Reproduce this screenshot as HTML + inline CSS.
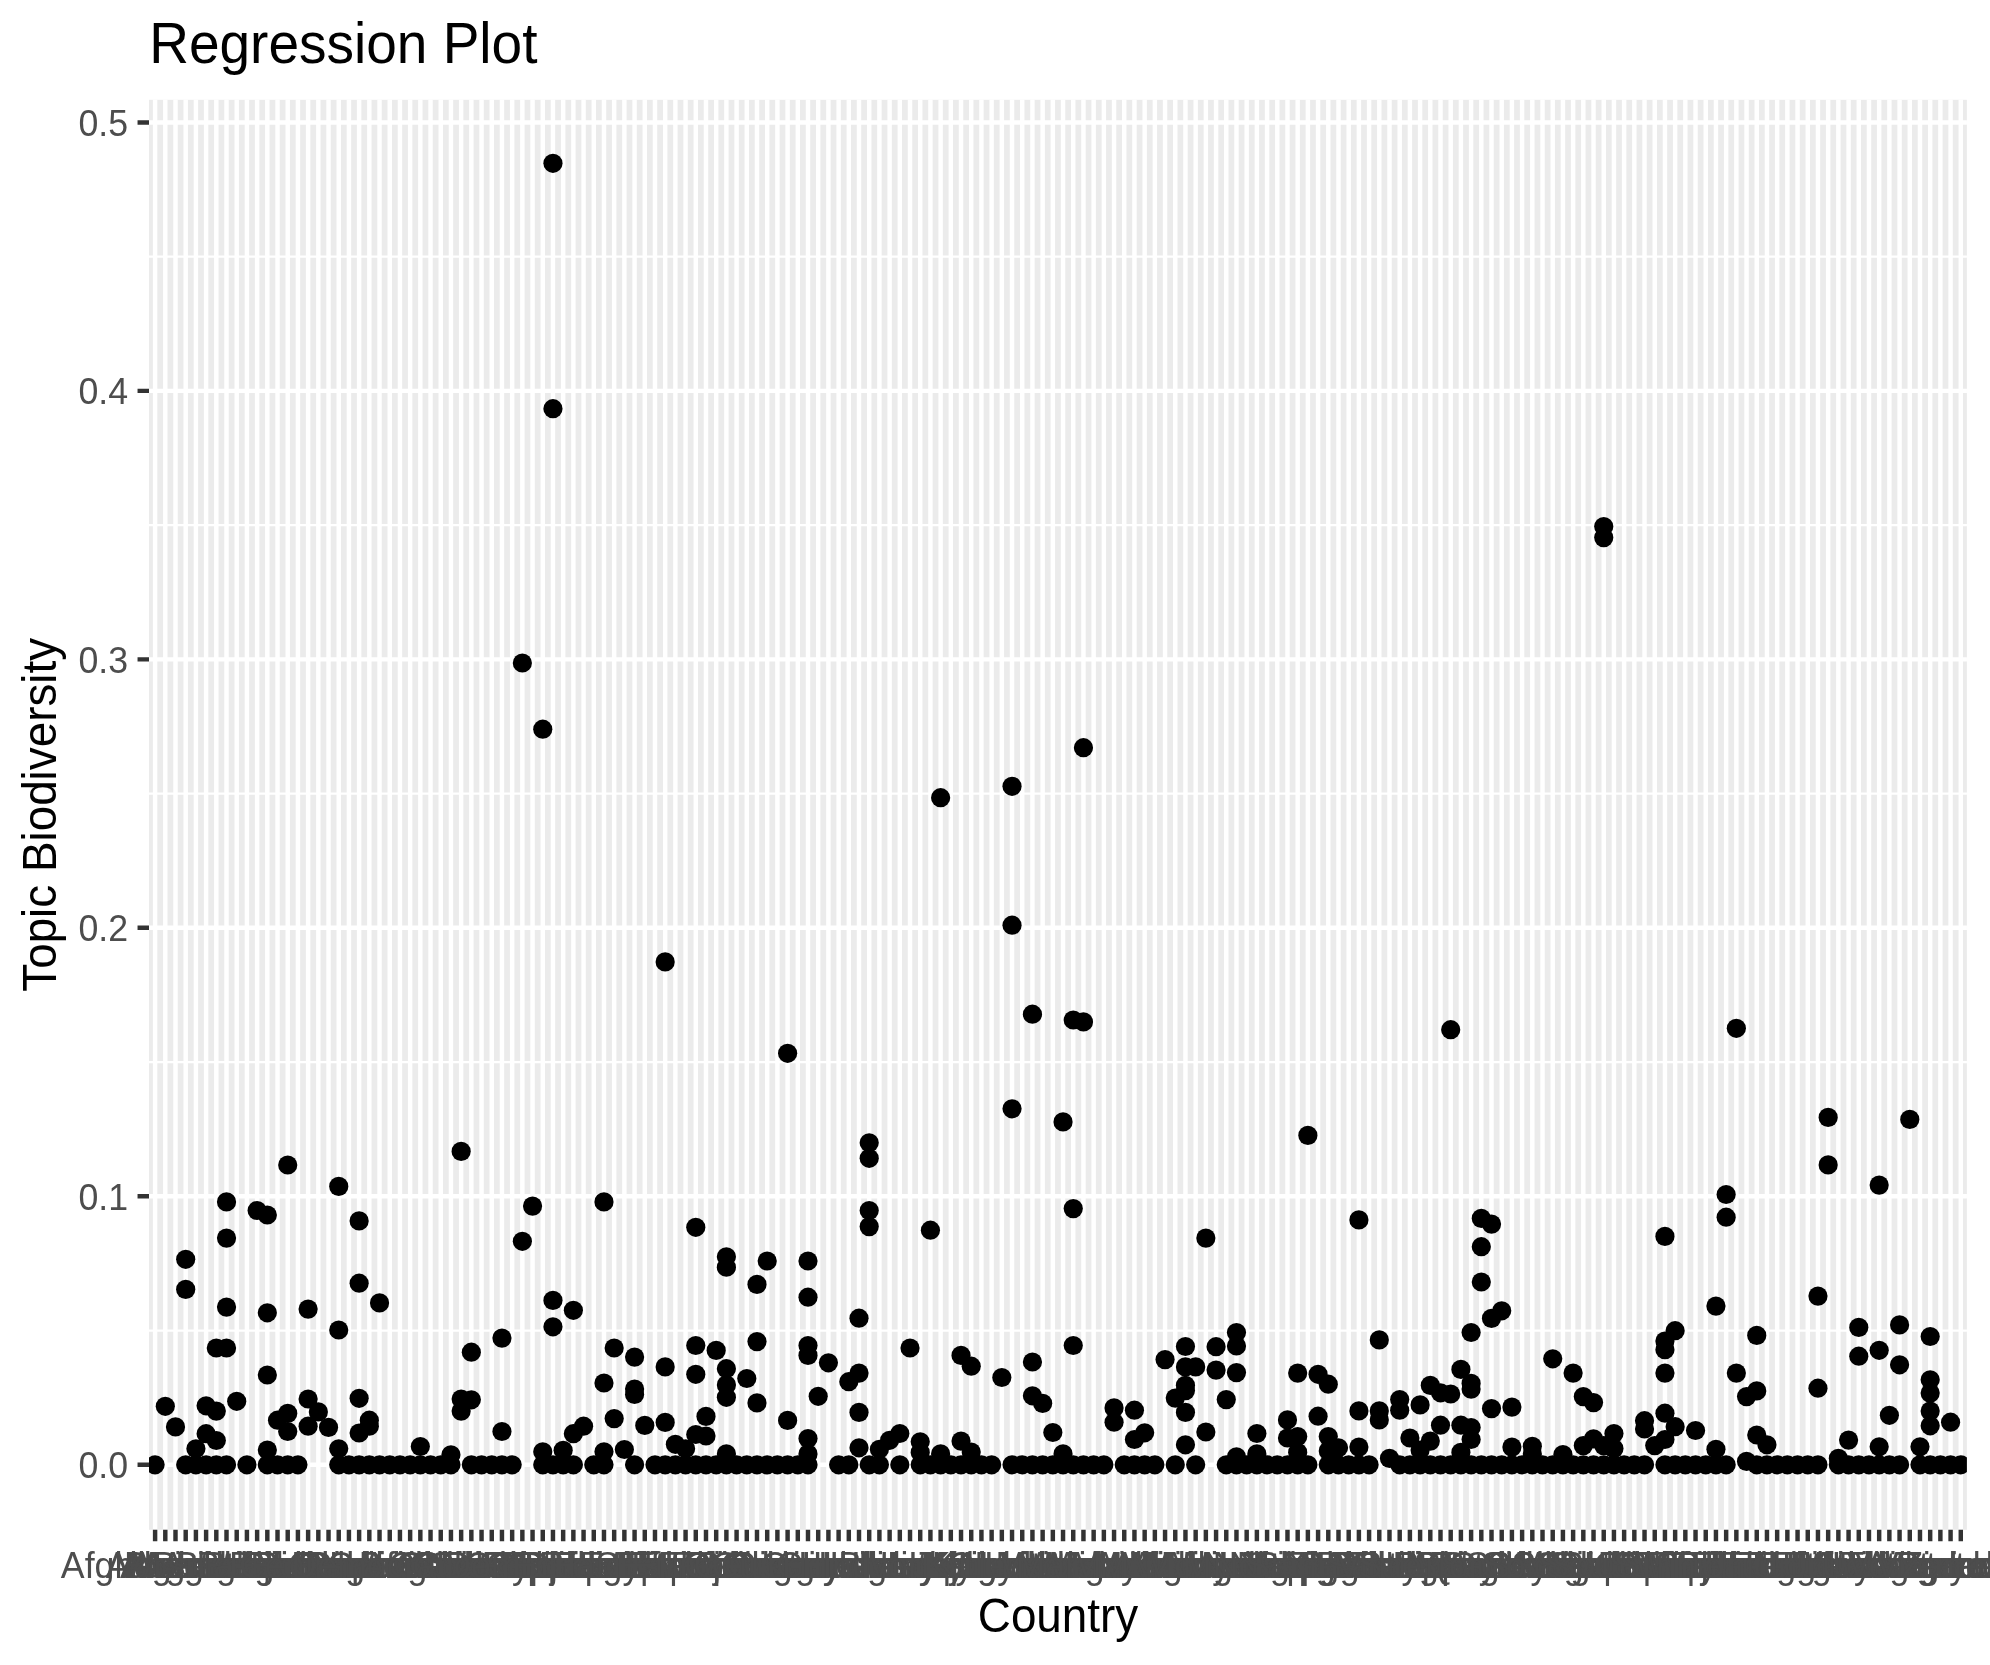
<!DOCTYPE html><html><head><meta charset="utf-8"><style>html,body{margin:0;padding:0;background:#fff;}svg{display:block;will-change:transform;}text{font-family:"Liberation Sans",sans-serif;}</style></head><body>
<svg width="1990" height="1665" viewBox="0 0 1990 1665">
<rect x="0" y="0" width="1990" height="1665" fill="#fff"/>
<defs><clipPath id="pc"><rect x="149.0" y="99.8" width="1817.90" height="1430.00"/></clipPath></defs>
<rect x="149.0" y="99.8" width="1817.90" height="1430.00" fill="#EBEBEB"/>
<path d="M149.0 1330.56H1966.9M149.0 1062.08H1966.9M149.0 793.60H1966.9M149.0 525.12H1966.9M149.0 256.64H1966.9" stroke="#fff" stroke-width="2.225" fill="none"/>
<path d="M149.0 1464.80H1966.9M149.0 1196.32H1966.9M149.0 927.84H1966.9M149.0 659.36H1966.9M149.0 390.88H1966.9M149.0 122.40H1966.9" stroke="#fff" stroke-width="4.450" fill="none"/>
<path d="M155.10 99.8V1529.8M165.30 99.8V1529.8M175.50 99.8V1529.8M185.70 99.8V1529.8M195.91 99.8V1529.8M206.11 99.8V1529.8M216.31 99.8V1529.8M226.51 99.8V1529.8M236.71 99.8V1529.8M246.91 99.8V1529.8M257.12 99.8V1529.8M267.32 99.8V1529.8M277.52 99.8V1529.8M287.72 99.8V1529.8M297.92 99.8V1529.8M308.12 99.8V1529.8M318.33 99.8V1529.8M328.53 99.8V1529.8M338.73 99.8V1529.8M348.93 99.8V1529.8M359.13 99.8V1529.8M369.33 99.8V1529.8M379.54 99.8V1529.8M389.74 99.8V1529.8M399.94 99.8V1529.8M410.14 99.8V1529.8M420.34 99.8V1529.8M430.54 99.8V1529.8M440.74 99.8V1529.8M450.95 99.8V1529.8M461.15 99.8V1529.8M471.35 99.8V1529.8M481.55 99.8V1529.8M491.75 99.8V1529.8M501.95 99.8V1529.8M512.16 99.8V1529.8M522.36 99.8V1529.8M532.56 99.8V1529.8M542.76 99.8V1529.8M552.96 99.8V1529.8M563.16 99.8V1529.8M573.37 99.8V1529.8M583.57 99.8V1529.8M593.77 99.8V1529.8M603.97 99.8V1529.8M614.17 99.8V1529.8M624.37 99.8V1529.8M634.58 99.8V1529.8M644.78 99.8V1529.8M654.98 99.8V1529.8M665.18 99.8V1529.8M675.38 99.8V1529.8M685.58 99.8V1529.8M695.78 99.8V1529.8M705.99 99.8V1529.8M716.19 99.8V1529.8M726.39 99.8V1529.8M736.59 99.8V1529.8M746.79 99.8V1529.8M756.99 99.8V1529.8M767.20 99.8V1529.8M777.40 99.8V1529.8M787.60 99.8V1529.8M797.80 99.8V1529.8M808.00 99.8V1529.8M818.20 99.8V1529.8M828.41 99.8V1529.8M838.61 99.8V1529.8M848.81 99.8V1529.8M859.01 99.8V1529.8M869.21 99.8V1529.8M879.41 99.8V1529.8M889.62 99.8V1529.8M899.82 99.8V1529.8M910.02 99.8V1529.8M920.22 99.8V1529.8M930.42 99.8V1529.8M940.62 99.8V1529.8M950.82 99.8V1529.8M961.03 99.8V1529.8M971.23 99.8V1529.8M981.43 99.8V1529.8M991.63 99.8V1529.8M1001.83 99.8V1529.8M1012.03 99.8V1529.8M1022.24 99.8V1529.8M1032.44 99.8V1529.8M1042.64 99.8V1529.8M1052.84 99.8V1529.8M1063.04 99.8V1529.8M1073.24 99.8V1529.8M1083.45 99.8V1529.8M1093.65 99.8V1529.8M1103.85 99.8V1529.8M1114.05 99.8V1529.8M1124.25 99.8V1529.8M1134.45 99.8V1529.8M1144.66 99.8V1529.8M1154.86 99.8V1529.8M1165.06 99.8V1529.8M1175.26 99.8V1529.8M1185.46 99.8V1529.8M1195.66 99.8V1529.8M1205.86 99.8V1529.8M1216.07 99.8V1529.8M1226.27 99.8V1529.8M1236.47 99.8V1529.8M1246.67 99.8V1529.8M1256.87 99.8V1529.8M1267.07 99.8V1529.8M1277.28 99.8V1529.8M1287.48 99.8V1529.8M1297.68 99.8V1529.8M1307.88 99.8V1529.8M1318.08 99.8V1529.8M1328.28 99.8V1529.8M1338.49 99.8V1529.8M1348.69 99.8V1529.8M1358.89 99.8V1529.8M1369.09 99.8V1529.8M1379.29 99.8V1529.8M1389.49 99.8V1529.8M1399.70 99.8V1529.8M1409.90 99.8V1529.8M1420.10 99.8V1529.8M1430.30 99.8V1529.8M1440.50 99.8V1529.8M1450.70 99.8V1529.8M1460.90 99.8V1529.8M1471.11 99.8V1529.8M1481.31 99.8V1529.8M1491.51 99.8V1529.8M1501.71 99.8V1529.8M1511.91 99.8V1529.8M1522.11 99.8V1529.8M1532.32 99.8V1529.8M1542.52 99.8V1529.8M1552.72 99.8V1529.8M1562.92 99.8V1529.8M1573.12 99.8V1529.8M1583.32 99.8V1529.8M1593.53 99.8V1529.8M1603.73 99.8V1529.8M1613.93 99.8V1529.8M1624.13 99.8V1529.8M1634.33 99.8V1529.8M1644.53 99.8V1529.8M1654.74 99.8V1529.8M1664.94 99.8V1529.8M1675.14 99.8V1529.8M1685.34 99.8V1529.8M1695.54 99.8V1529.8M1705.74 99.8V1529.8M1715.94 99.8V1529.8M1726.15 99.8V1529.8M1736.35 99.8V1529.8M1746.55 99.8V1529.8M1756.75 99.8V1529.8M1766.95 99.8V1529.8M1777.15 99.8V1529.8M1787.36 99.8V1529.8M1797.56 99.8V1529.8M1807.76 99.8V1529.8M1817.96 99.8V1529.8M1828.16 99.8V1529.8M1838.36 99.8V1529.8M1848.57 99.8V1529.8M1858.77 99.8V1529.8M1868.97 99.8V1529.8M1879.17 99.8V1529.8M1889.37 99.8V1529.8M1899.57 99.8V1529.8M1909.78 99.8V1529.8M1919.98 99.8V1529.8M1930.18 99.8V1529.8M1940.38 99.8V1529.8M1950.58 99.8V1529.8M1960.78 99.8V1529.8" stroke="#fff" stroke-width="4.450" fill="none"/>
<g clip-path="url(#pc)" fill="#000">
<circle cx="155.10" cy="1464.80" r="9.6"/>
<circle cx="185.70" cy="1464.80" r="9.6"/>
<circle cx="195.91" cy="1464.80" r="9.6"/>
<circle cx="206.11" cy="1464.80" r="9.6"/>
<circle cx="216.31" cy="1464.80" r="9.6"/>
<circle cx="226.51" cy="1464.80" r="9.6"/>
<circle cx="246.91" cy="1464.80" r="9.6"/>
<circle cx="267.32" cy="1464.80" r="9.6"/>
<circle cx="277.52" cy="1464.80" r="9.6"/>
<circle cx="287.72" cy="1464.80" r="9.6"/>
<circle cx="297.92" cy="1464.80" r="9.6"/>
<circle cx="338.73" cy="1464.80" r="9.6"/>
<circle cx="348.93" cy="1464.80" r="9.6"/>
<circle cx="359.13" cy="1464.80" r="9.6"/>
<circle cx="369.33" cy="1464.80" r="9.6"/>
<circle cx="379.54" cy="1464.80" r="9.6"/>
<circle cx="389.74" cy="1464.80" r="9.6"/>
<circle cx="399.94" cy="1464.80" r="9.6"/>
<circle cx="410.14" cy="1464.80" r="9.6"/>
<circle cx="420.34" cy="1464.80" r="9.6"/>
<circle cx="430.54" cy="1464.80" r="9.6"/>
<circle cx="440.74" cy="1464.80" r="9.6"/>
<circle cx="450.95" cy="1464.80" r="9.6"/>
<circle cx="471.35" cy="1464.80" r="9.6"/>
<circle cx="481.55" cy="1464.80" r="9.6"/>
<circle cx="491.75" cy="1464.80" r="9.6"/>
<circle cx="501.95" cy="1464.80" r="9.6"/>
<circle cx="512.16" cy="1464.80" r="9.6"/>
<circle cx="542.76" cy="1464.80" r="9.6"/>
<circle cx="552.96" cy="1464.80" r="9.6"/>
<circle cx="563.16" cy="1464.80" r="9.6"/>
<circle cx="573.37" cy="1464.80" r="9.6"/>
<circle cx="593.77" cy="1464.80" r="9.6"/>
<circle cx="603.97" cy="1464.80" r="9.6"/>
<circle cx="634.58" cy="1464.80" r="9.6"/>
<circle cx="654.98" cy="1464.80" r="9.6"/>
<circle cx="665.18" cy="1464.80" r="9.6"/>
<circle cx="675.38" cy="1464.80" r="9.6"/>
<circle cx="685.58" cy="1464.80" r="9.6"/>
<circle cx="695.78" cy="1464.80" r="9.6"/>
<circle cx="705.99" cy="1464.80" r="9.6"/>
<circle cx="716.19" cy="1464.80" r="9.6"/>
<circle cx="726.39" cy="1464.80" r="9.6"/>
<circle cx="736.59" cy="1464.80" r="9.6"/>
<circle cx="746.79" cy="1464.80" r="9.6"/>
<circle cx="756.99" cy="1464.80" r="9.6"/>
<circle cx="767.20" cy="1464.80" r="9.6"/>
<circle cx="777.40" cy="1464.80" r="9.6"/>
<circle cx="787.60" cy="1464.80" r="9.6"/>
<circle cx="797.80" cy="1464.80" r="9.6"/>
<circle cx="808.00" cy="1464.80" r="9.6"/>
<circle cx="838.61" cy="1464.80" r="9.6"/>
<circle cx="848.81" cy="1464.80" r="9.6"/>
<circle cx="869.21" cy="1464.80" r="9.6"/>
<circle cx="879.41" cy="1464.80" r="9.6"/>
<circle cx="899.82" cy="1464.80" r="9.6"/>
<circle cx="920.22" cy="1464.80" r="9.6"/>
<circle cx="930.42" cy="1464.80" r="9.6"/>
<circle cx="940.62" cy="1464.80" r="9.6"/>
<circle cx="950.82" cy="1464.80" r="9.6"/>
<circle cx="961.03" cy="1464.80" r="9.6"/>
<circle cx="971.23" cy="1464.80" r="9.6"/>
<circle cx="981.43" cy="1464.80" r="9.6"/>
<circle cx="991.63" cy="1464.80" r="9.6"/>
<circle cx="1012.03" cy="1464.80" r="9.6"/>
<circle cx="1022.24" cy="1464.80" r="9.6"/>
<circle cx="1032.44" cy="1464.80" r="9.6"/>
<circle cx="1042.64" cy="1464.80" r="9.6"/>
<circle cx="1052.84" cy="1464.80" r="9.6"/>
<circle cx="1063.04" cy="1464.80" r="9.6"/>
<circle cx="1073.24" cy="1464.80" r="9.6"/>
<circle cx="1083.45" cy="1464.80" r="9.6"/>
<circle cx="1093.65" cy="1464.80" r="9.6"/>
<circle cx="1103.85" cy="1464.80" r="9.6"/>
<circle cx="1124.25" cy="1464.80" r="9.6"/>
<circle cx="1134.45" cy="1464.80" r="9.6"/>
<circle cx="1144.66" cy="1464.80" r="9.6"/>
<circle cx="1154.86" cy="1464.80" r="9.6"/>
<circle cx="1175.26" cy="1464.80" r="9.6"/>
<circle cx="1195.66" cy="1464.80" r="9.6"/>
<circle cx="1226.27" cy="1464.80" r="9.6"/>
<circle cx="1236.47" cy="1464.80" r="9.6"/>
<circle cx="1246.67" cy="1464.80" r="9.6"/>
<circle cx="1256.87" cy="1464.80" r="9.6"/>
<circle cx="1267.07" cy="1464.80" r="9.6"/>
<circle cx="1277.28" cy="1464.80" r="9.6"/>
<circle cx="1287.48" cy="1464.80" r="9.6"/>
<circle cx="1297.68" cy="1464.80" r="9.6"/>
<circle cx="1307.88" cy="1464.80" r="9.6"/>
<circle cx="1328.28" cy="1464.80" r="9.6"/>
<circle cx="1338.49" cy="1464.80" r="9.6"/>
<circle cx="1348.69" cy="1464.80" r="9.6"/>
<circle cx="1358.89" cy="1464.80" r="9.6"/>
<circle cx="1369.09" cy="1464.80" r="9.6"/>
<circle cx="1399.70" cy="1464.80" r="9.6"/>
<circle cx="1409.90" cy="1464.80" r="9.6"/>
<circle cx="1420.10" cy="1464.80" r="9.6"/>
<circle cx="1430.30" cy="1464.80" r="9.6"/>
<circle cx="1440.50" cy="1464.80" r="9.6"/>
<circle cx="1450.70" cy="1464.80" r="9.6"/>
<circle cx="1460.90" cy="1464.80" r="9.6"/>
<circle cx="1471.11" cy="1464.80" r="9.6"/>
<circle cx="1481.31" cy="1464.80" r="9.6"/>
<circle cx="1491.51" cy="1464.80" r="9.6"/>
<circle cx="1501.71" cy="1464.80" r="9.6"/>
<circle cx="1511.91" cy="1464.80" r="9.6"/>
<circle cx="1522.11" cy="1464.80" r="9.6"/>
<circle cx="1532.32" cy="1464.80" r="9.6"/>
<circle cx="1542.52" cy="1464.80" r="9.6"/>
<circle cx="1552.72" cy="1464.80" r="9.6"/>
<circle cx="1562.92" cy="1464.80" r="9.6"/>
<circle cx="1573.12" cy="1464.80" r="9.6"/>
<circle cx="1583.32" cy="1464.80" r="9.6"/>
<circle cx="1593.53" cy="1464.80" r="9.6"/>
<circle cx="1603.73" cy="1464.80" r="9.6"/>
<circle cx="1613.93" cy="1464.80" r="9.6"/>
<circle cx="1624.13" cy="1464.80" r="9.6"/>
<circle cx="1634.33" cy="1464.80" r="9.6"/>
<circle cx="1644.53" cy="1464.80" r="9.6"/>
<circle cx="1664.94" cy="1464.80" r="9.6"/>
<circle cx="1675.14" cy="1464.80" r="9.6"/>
<circle cx="1685.34" cy="1464.80" r="9.6"/>
<circle cx="1695.54" cy="1464.80" r="9.6"/>
<circle cx="1705.74" cy="1464.80" r="9.6"/>
<circle cx="1715.94" cy="1464.80" r="9.6"/>
<circle cx="1726.15" cy="1464.80" r="9.6"/>
<circle cx="1756.75" cy="1464.80" r="9.6"/>
<circle cx="1766.95" cy="1464.80" r="9.6"/>
<circle cx="1777.15" cy="1464.80" r="9.6"/>
<circle cx="1787.36" cy="1464.80" r="9.6"/>
<circle cx="1797.56" cy="1464.80" r="9.6"/>
<circle cx="1807.76" cy="1464.80" r="9.6"/>
<circle cx="1817.96" cy="1464.80" r="9.6"/>
<circle cx="1838.36" cy="1464.80" r="9.6"/>
<circle cx="1848.57" cy="1464.80" r="9.6"/>
<circle cx="1858.77" cy="1464.80" r="9.6"/>
<circle cx="1868.97" cy="1464.80" r="9.6"/>
<circle cx="1879.17" cy="1464.80" r="9.6"/>
<circle cx="1889.37" cy="1464.80" r="9.6"/>
<circle cx="1899.57" cy="1464.80" r="9.6"/>
<circle cx="1919.98" cy="1464.80" r="9.6"/>
<circle cx="1930.18" cy="1464.80" r="9.6"/>
<circle cx="1940.38" cy="1464.80" r="9.6"/>
<circle cx="1950.58" cy="1464.80" r="9.6"/>
<circle cx="1960.78" cy="1464.80" r="9.6"/>
<circle cx="165.30" cy="1406.30" r="9.6"/>
<circle cx="175.50" cy="1426.90" r="9.6"/>
<circle cx="185.70" cy="1259.30" r="9.6"/>
<circle cx="185.70" cy="1289.40" r="9.6"/>
<circle cx="195.91" cy="1448.80" r="9.6"/>
<circle cx="206.11" cy="1405.80" r="9.6"/>
<circle cx="206.11" cy="1433.70" r="9.6"/>
<circle cx="216.31" cy="1348.00" r="9.6"/>
<circle cx="216.31" cy="1411.10" r="9.6"/>
<circle cx="216.31" cy="1440.50" r="9.6"/>
<circle cx="226.51" cy="1201.90" r="9.6"/>
<circle cx="226.51" cy="1238.10" r="9.6"/>
<circle cx="226.51" cy="1307.10" r="9.6"/>
<circle cx="226.51" cy="1348.00" r="9.6"/>
<circle cx="236.71" cy="1401.30" r="9.6"/>
<circle cx="257.12" cy="1210.50" r="9.6"/>
<circle cx="267.32" cy="1215.00" r="9.6"/>
<circle cx="267.32" cy="1312.80" r="9.6"/>
<circle cx="267.32" cy="1375.00" r="9.6"/>
<circle cx="267.32" cy="1450.00" r="9.6"/>
<circle cx="277.52" cy="1420.20" r="9.6"/>
<circle cx="287.72" cy="1165.00" r="9.6"/>
<circle cx="287.72" cy="1413.40" r="9.6"/>
<circle cx="287.72" cy="1431.50" r="9.6"/>
<circle cx="308.12" cy="1309.10" r="9.6"/>
<circle cx="308.12" cy="1399.00" r="9.6"/>
<circle cx="308.12" cy="1426.20" r="9.6"/>
<circle cx="318.33" cy="1411.90" r="9.6"/>
<circle cx="328.53" cy="1427.40" r="9.6"/>
<circle cx="338.73" cy="1186.40" r="9.6"/>
<circle cx="338.73" cy="1330.00" r="9.6"/>
<circle cx="338.73" cy="1448.80" r="9.6"/>
<circle cx="359.13" cy="1220.90" r="9.6"/>
<circle cx="359.13" cy="1283.20" r="9.6"/>
<circle cx="359.13" cy="1398.30" r="9.6"/>
<circle cx="359.13" cy="1433.00" r="9.6"/>
<circle cx="369.33" cy="1420.20" r="9.6"/>
<circle cx="369.33" cy="1426.20" r="9.6"/>
<circle cx="379.54" cy="1302.90" r="9.6"/>
<circle cx="420.34" cy="1446.50" r="9.6"/>
<circle cx="450.95" cy="1454.80" r="9.6"/>
<circle cx="461.15" cy="1151.40" r="9.6"/>
<circle cx="461.15" cy="1399.00" r="9.6"/>
<circle cx="461.15" cy="1411.10" r="9.6"/>
<circle cx="471.35" cy="1352.20" r="9.6"/>
<circle cx="471.35" cy="1399.80" r="9.6"/>
<circle cx="501.95" cy="1338.10" r="9.6"/>
<circle cx="501.95" cy="1431.50" r="9.6"/>
<circle cx="522.36" cy="663.00" r="9.6"/>
<circle cx="522.36" cy="1241.30" r="9.6"/>
<circle cx="532.56" cy="1206.10" r="9.6"/>
<circle cx="542.76" cy="729.20" r="9.6"/>
<circle cx="542.76" cy="1451.80" r="9.6"/>
<circle cx="552.96" cy="163.30" r="9.6"/>
<circle cx="552.96" cy="408.70" r="9.6"/>
<circle cx="552.96" cy="1300.40" r="9.6"/>
<circle cx="552.96" cy="1326.80" r="9.6"/>
<circle cx="563.16" cy="1450.30" r="9.6"/>
<circle cx="573.37" cy="1310.30" r="9.6"/>
<circle cx="573.37" cy="1433.70" r="9.6"/>
<circle cx="583.57" cy="1426.20" r="9.6"/>
<circle cx="603.97" cy="1201.90" r="9.6"/>
<circle cx="603.97" cy="1383.00" r="9.6"/>
<circle cx="603.97" cy="1451.80" r="9.6"/>
<circle cx="614.17" cy="1348.00" r="9.6"/>
<circle cx="614.17" cy="1418.60" r="9.6"/>
<circle cx="624.37" cy="1449.50" r="9.6"/>
<circle cx="634.58" cy="1357.10" r="9.6"/>
<circle cx="634.58" cy="1389.10" r="9.6"/>
<circle cx="634.58" cy="1394.50" r="9.6"/>
<circle cx="644.78" cy="1425.40" r="9.6"/>
<circle cx="665.18" cy="961.90" r="9.6"/>
<circle cx="665.18" cy="1366.90" r="9.6"/>
<circle cx="665.18" cy="1422.40" r="9.6"/>
<circle cx="675.38" cy="1444.30" r="9.6"/>
<circle cx="685.58" cy="1448.80" r="9.6"/>
<circle cx="695.78" cy="1227.30" r="9.6"/>
<circle cx="695.78" cy="1345.50" r="9.6"/>
<circle cx="695.78" cy="1374.30" r="9.6"/>
<circle cx="695.78" cy="1434.50" r="9.6"/>
<circle cx="705.99" cy="1416.40" r="9.6"/>
<circle cx="705.99" cy="1436.00" r="9.6"/>
<circle cx="716.19" cy="1350.40" r="9.6"/>
<circle cx="726.39" cy="1256.80" r="9.6"/>
<circle cx="726.39" cy="1267.20" r="9.6"/>
<circle cx="726.39" cy="1368.70" r="9.6"/>
<circle cx="726.39" cy="1384.90" r="9.6"/>
<circle cx="726.39" cy="1397.30" r="9.6"/>
<circle cx="726.39" cy="1453.90" r="9.6"/>
<circle cx="746.79" cy="1378.50" r="9.6"/>
<circle cx="756.99" cy="1284.40" r="9.6"/>
<circle cx="756.99" cy="1341.60" r="9.6"/>
<circle cx="756.99" cy="1402.90" r="9.6"/>
<circle cx="767.20" cy="1261.00" r="9.6"/>
<circle cx="787.60" cy="1053.30" r="9.6"/>
<circle cx="787.60" cy="1420.40" r="9.6"/>
<circle cx="808.00" cy="1261.00" r="9.6"/>
<circle cx="808.00" cy="1297.20" r="9.6"/>
<circle cx="808.00" cy="1345.50" r="9.6"/>
<circle cx="808.00" cy="1355.40" r="9.6"/>
<circle cx="808.00" cy="1438.50" r="9.6"/>
<circle cx="808.00" cy="1453.90" r="9.6"/>
<circle cx="818.20" cy="1396.30" r="9.6"/>
<circle cx="828.41" cy="1362.80" r="9.6"/>
<circle cx="848.81" cy="1381.70" r="9.6"/>
<circle cx="859.01" cy="1318.20" r="9.6"/>
<circle cx="859.01" cy="1373.10" r="9.6"/>
<circle cx="859.01" cy="1412.40" r="9.6"/>
<circle cx="859.01" cy="1447.80" r="9.6"/>
<circle cx="869.21" cy="1142.80" r="9.6"/>
<circle cx="869.21" cy="1158.30" r="9.6"/>
<circle cx="869.21" cy="1210.50" r="9.6"/>
<circle cx="869.21" cy="1226.60" r="9.6"/>
<circle cx="879.41" cy="1449.30" r="9.6"/>
<circle cx="889.62" cy="1440.30" r="9.6"/>
<circle cx="899.82" cy="1433.50" r="9.6"/>
<circle cx="910.02" cy="1348.00" r="9.6"/>
<circle cx="920.22" cy="1441.80" r="9.6"/>
<circle cx="920.22" cy="1452.40" r="9.6"/>
<circle cx="930.42" cy="1230.20" r="9.6"/>
<circle cx="940.62" cy="797.70" r="9.6"/>
<circle cx="940.62" cy="1453.90" r="9.6"/>
<circle cx="961.03" cy="1355.40" r="9.6"/>
<circle cx="961.03" cy="1441.10" r="9.6"/>
<circle cx="971.23" cy="1366.20" r="9.6"/>
<circle cx="971.23" cy="1452.10" r="9.6"/>
<circle cx="1001.83" cy="1377.50" r="9.6"/>
<circle cx="1012.03" cy="786.30" r="9.6"/>
<circle cx="1012.03" cy="925.20" r="9.6"/>
<circle cx="1012.03" cy="1108.80" r="9.6"/>
<circle cx="1032.44" cy="1014.20" r="9.6"/>
<circle cx="1032.44" cy="1362.00" r="9.6"/>
<circle cx="1032.44" cy="1395.80" r="9.6"/>
<circle cx="1042.64" cy="1403.40" r="9.6"/>
<circle cx="1052.84" cy="1432.50" r="9.6"/>
<circle cx="1063.04" cy="1121.90" r="9.6"/>
<circle cx="1063.04" cy="1453.90" r="9.6"/>
<circle cx="1073.24" cy="1020.00" r="9.6"/>
<circle cx="1073.24" cy="1208.60" r="9.6"/>
<circle cx="1073.24" cy="1345.50" r="9.6"/>
<circle cx="1083.45" cy="747.70" r="9.6"/>
<circle cx="1083.45" cy="1021.90" r="9.6"/>
<circle cx="1114.05" cy="1407.90" r="9.6"/>
<circle cx="1114.05" cy="1422.20" r="9.6"/>
<circle cx="1134.45" cy="1410.20" r="9.6"/>
<circle cx="1134.45" cy="1439.50" r="9.6"/>
<circle cx="1144.66" cy="1432.80" r="9.6"/>
<circle cx="1165.06" cy="1359.60" r="9.6"/>
<circle cx="1175.26" cy="1398.10" r="9.6"/>
<circle cx="1185.46" cy="1346.50" r="9.6"/>
<circle cx="1185.46" cy="1366.90" r="9.6"/>
<circle cx="1185.46" cy="1385.30" r="9.6"/>
<circle cx="1185.46" cy="1390.60" r="9.6"/>
<circle cx="1185.46" cy="1412.40" r="9.6"/>
<circle cx="1185.46" cy="1444.80" r="9.6"/>
<circle cx="1195.66" cy="1366.90" r="9.6"/>
<circle cx="1205.86" cy="1238.10" r="9.6"/>
<circle cx="1205.86" cy="1432.00" r="9.6"/>
<circle cx="1216.07" cy="1346.70" r="9.6"/>
<circle cx="1216.07" cy="1370.10" r="9.6"/>
<circle cx="1226.27" cy="1399.60" r="9.6"/>
<circle cx="1236.47" cy="1332.50" r="9.6"/>
<circle cx="1236.47" cy="1346.00" r="9.6"/>
<circle cx="1236.47" cy="1372.60" r="9.6"/>
<circle cx="1236.47" cy="1456.90" r="9.6"/>
<circle cx="1256.87" cy="1433.50" r="9.6"/>
<circle cx="1256.87" cy="1453.90" r="9.6"/>
<circle cx="1256.87" cy="1458.40" r="9.6"/>
<circle cx="1287.48" cy="1419.90" r="9.6"/>
<circle cx="1287.48" cy="1438.00" r="9.6"/>
<circle cx="1297.68" cy="1373.10" r="9.6"/>
<circle cx="1297.68" cy="1436.50" r="9.6"/>
<circle cx="1297.68" cy="1452.40" r="9.6"/>
<circle cx="1307.88" cy="1135.40" r="9.6"/>
<circle cx="1318.08" cy="1374.30" r="9.6"/>
<circle cx="1318.08" cy="1416.20" r="9.6"/>
<circle cx="1328.28" cy="1384.20" r="9.6"/>
<circle cx="1328.28" cy="1436.50" r="9.6"/>
<circle cx="1328.28" cy="1450.90" r="9.6"/>
<circle cx="1338.49" cy="1447.80" r="9.6"/>
<circle cx="1358.89" cy="1219.90" r="9.6"/>
<circle cx="1358.89" cy="1410.90" r="9.6"/>
<circle cx="1358.89" cy="1447.10" r="9.6"/>
<circle cx="1379.29" cy="1339.90" r="9.6"/>
<circle cx="1379.29" cy="1410.90" r="9.6"/>
<circle cx="1379.29" cy="1419.90" r="9.6"/>
<circle cx="1389.49" cy="1458.40" r="9.6"/>
<circle cx="1399.70" cy="1399.60" r="9.6"/>
<circle cx="1399.70" cy="1410.20" r="9.6"/>
<circle cx="1409.90" cy="1438.00" r="9.6"/>
<circle cx="1420.10" cy="1404.90" r="9.6"/>
<circle cx="1420.10" cy="1450.10" r="9.6"/>
<circle cx="1430.30" cy="1385.40" r="9.6"/>
<circle cx="1430.30" cy="1441.10" r="9.6"/>
<circle cx="1440.50" cy="1392.80" r="9.6"/>
<circle cx="1440.50" cy="1425.20" r="9.6"/>
<circle cx="1450.70" cy="1029.70" r="9.6"/>
<circle cx="1450.70" cy="1394.00" r="9.6"/>
<circle cx="1460.90" cy="1369.40" r="9.6"/>
<circle cx="1460.90" cy="1425.20" r="9.6"/>
<circle cx="1460.90" cy="1452.40" r="9.6"/>
<circle cx="1471.11" cy="1332.50" r="9.6"/>
<circle cx="1471.11" cy="1383.40" r="9.6"/>
<circle cx="1471.11" cy="1389.10" r="9.6"/>
<circle cx="1471.11" cy="1427.50" r="9.6"/>
<circle cx="1471.11" cy="1439.50" r="9.6"/>
<circle cx="1481.31" cy="1218.40" r="9.6"/>
<circle cx="1481.31" cy="1246.70" r="9.6"/>
<circle cx="1481.31" cy="1282.00" r="9.6"/>
<circle cx="1491.51" cy="1224.10" r="9.6"/>
<circle cx="1491.51" cy="1318.40" r="9.6"/>
<circle cx="1491.51" cy="1408.60" r="9.6"/>
<circle cx="1501.71" cy="1310.80" r="9.6"/>
<circle cx="1511.91" cy="1407.10" r="9.6"/>
<circle cx="1511.91" cy="1447.10" r="9.6"/>
<circle cx="1532.32" cy="1446.30" r="9.6"/>
<circle cx="1532.32" cy="1453.90" r="9.6"/>
<circle cx="1552.72" cy="1358.80" r="9.6"/>
<circle cx="1562.92" cy="1454.60" r="9.6"/>
<circle cx="1573.12" cy="1373.10" r="9.6"/>
<circle cx="1583.32" cy="1396.60" r="9.6"/>
<circle cx="1583.32" cy="1445.60" r="9.6"/>
<circle cx="1593.53" cy="1402.60" r="9.6"/>
<circle cx="1593.53" cy="1438.80" r="9.6"/>
<circle cx="1603.73" cy="526.50" r="9.6"/>
<circle cx="1603.73" cy="537.60" r="9.6"/>
<circle cx="1613.93" cy="1433.50" r="9.6"/>
<circle cx="1613.93" cy="1448.60" r="9.6"/>
<circle cx="1644.53" cy="1420.70" r="9.6"/>
<circle cx="1644.53" cy="1429.00" r="9.6"/>
<circle cx="1654.74" cy="1445.60" r="9.6"/>
<circle cx="1664.94" cy="1236.40" r="9.6"/>
<circle cx="1664.94" cy="1341.10" r="9.6"/>
<circle cx="1664.94" cy="1349.70" r="9.6"/>
<circle cx="1664.94" cy="1373.10" r="9.6"/>
<circle cx="1664.94" cy="1413.20" r="9.6"/>
<circle cx="1664.94" cy="1439.50" r="9.6"/>
<circle cx="1675.14" cy="1330.70" r="9.6"/>
<circle cx="1675.14" cy="1426.70" r="9.6"/>
<circle cx="1695.54" cy="1430.50" r="9.6"/>
<circle cx="1715.94" cy="1306.10" r="9.6"/>
<circle cx="1715.94" cy="1449.30" r="9.6"/>
<circle cx="1726.15" cy="1194.50" r="9.6"/>
<circle cx="1726.15" cy="1217.20" r="9.6"/>
<circle cx="1736.35" cy="1028.30" r="9.6"/>
<circle cx="1736.35" cy="1373.10" r="9.6"/>
<circle cx="1746.55" cy="1396.60" r="9.6"/>
<circle cx="1746.55" cy="1461.40" r="9.6"/>
<circle cx="1756.75" cy="1335.40" r="9.6"/>
<circle cx="1756.75" cy="1390.90" r="9.6"/>
<circle cx="1756.75" cy="1435.00" r="9.6"/>
<circle cx="1766.95" cy="1444.80" r="9.6"/>
<circle cx="1817.96" cy="1296.10" r="9.6"/>
<circle cx="1817.96" cy="1388.20" r="9.6"/>
<circle cx="1828.16" cy="1117.40" r="9.6"/>
<circle cx="1828.16" cy="1164.90" r="9.6"/>
<circle cx="1838.36" cy="1458.40" r="9.6"/>
<circle cx="1848.57" cy="1440.10" r="9.6"/>
<circle cx="1858.77" cy="1327.40" r="9.6"/>
<circle cx="1858.77" cy="1356.20" r="9.6"/>
<circle cx="1879.17" cy="1185.10" r="9.6"/>
<circle cx="1879.17" cy="1350.30" r="9.6"/>
<circle cx="1879.17" cy="1446.80" r="9.6"/>
<circle cx="1889.37" cy="1415.30" r="9.6"/>
<circle cx="1899.57" cy="1324.90" r="9.6"/>
<circle cx="1899.57" cy="1364.80" r="9.6"/>
<circle cx="1909.78" cy="1119.40" r="9.6"/>
<circle cx="1919.98" cy="1446.80" r="9.6"/>
<circle cx="1930.18" cy="1336.50" r="9.6"/>
<circle cx="1930.18" cy="1379.80" r="9.6"/>
<circle cx="1930.18" cy="1393.10" r="9.6"/>
<circle cx="1930.18" cy="1411.10" r="9.6"/>
<circle cx="1930.18" cy="1425.80" r="9.6"/>
<circle cx="1950.58" cy="1422.20" r="9.6"/>
<circle cx="1603.73" cy="1445.60" r="9.6"/>
</g>
<path d="M137.54 1464.80H149.0M137.54 1196.32H149.0M137.54 927.84H149.0M137.54 659.36H149.0M137.54 390.88H149.0M137.54 122.40H149.0M155.10 1529.8V1541.26M165.30 1529.8V1541.26M175.50 1529.8V1541.26M185.70 1529.8V1541.26M195.91 1529.8V1541.26M206.11 1529.8V1541.26M216.31 1529.8V1541.26M226.51 1529.8V1541.26M236.71 1529.8V1541.26M246.91 1529.8V1541.26M257.12 1529.8V1541.26M267.32 1529.8V1541.26M277.52 1529.8V1541.26M287.72 1529.8V1541.26M297.92 1529.8V1541.26M308.12 1529.8V1541.26M318.33 1529.8V1541.26M328.53 1529.8V1541.26M338.73 1529.8V1541.26M348.93 1529.8V1541.26M359.13 1529.8V1541.26M369.33 1529.8V1541.26M379.54 1529.8V1541.26M389.74 1529.8V1541.26M399.94 1529.8V1541.26M410.14 1529.8V1541.26M420.34 1529.8V1541.26M430.54 1529.8V1541.26M440.74 1529.8V1541.26M450.95 1529.8V1541.26M461.15 1529.8V1541.26M471.35 1529.8V1541.26M481.55 1529.8V1541.26M491.75 1529.8V1541.26M501.95 1529.8V1541.26M512.16 1529.8V1541.26M522.36 1529.8V1541.26M532.56 1529.8V1541.26M542.76 1529.8V1541.26M552.96 1529.8V1541.26M563.16 1529.8V1541.26M573.37 1529.8V1541.26M583.57 1529.8V1541.26M593.77 1529.8V1541.26M603.97 1529.8V1541.26M614.17 1529.8V1541.26M624.37 1529.8V1541.26M634.58 1529.8V1541.26M644.78 1529.8V1541.26M654.98 1529.8V1541.26M665.18 1529.8V1541.26M675.38 1529.8V1541.26M685.58 1529.8V1541.26M695.78 1529.8V1541.26M705.99 1529.8V1541.26M716.19 1529.8V1541.26M726.39 1529.8V1541.26M736.59 1529.8V1541.26M746.79 1529.8V1541.26M756.99 1529.8V1541.26M767.20 1529.8V1541.26M777.40 1529.8V1541.26M787.60 1529.8V1541.26M797.80 1529.8V1541.26M808.00 1529.8V1541.26M818.20 1529.8V1541.26M828.41 1529.8V1541.26M838.61 1529.8V1541.26M848.81 1529.8V1541.26M859.01 1529.8V1541.26M869.21 1529.8V1541.26M879.41 1529.8V1541.26M889.62 1529.8V1541.26M899.82 1529.8V1541.26M910.02 1529.8V1541.26M920.22 1529.8V1541.26M930.42 1529.8V1541.26M940.62 1529.8V1541.26M950.82 1529.8V1541.26M961.03 1529.8V1541.26M971.23 1529.8V1541.26M981.43 1529.8V1541.26M991.63 1529.8V1541.26M1001.83 1529.8V1541.26M1012.03 1529.8V1541.26M1022.24 1529.8V1541.26M1032.44 1529.8V1541.26M1042.64 1529.8V1541.26M1052.84 1529.8V1541.26M1063.04 1529.8V1541.26M1073.24 1529.8V1541.26M1083.45 1529.8V1541.26M1093.65 1529.8V1541.26M1103.85 1529.8V1541.26M1114.05 1529.8V1541.26M1124.25 1529.8V1541.26M1134.45 1529.8V1541.26M1144.66 1529.8V1541.26M1154.86 1529.8V1541.26M1165.06 1529.8V1541.26M1175.26 1529.8V1541.26M1185.46 1529.8V1541.26M1195.66 1529.8V1541.26M1205.86 1529.8V1541.26M1216.07 1529.8V1541.26M1226.27 1529.8V1541.26M1236.47 1529.8V1541.26M1246.67 1529.8V1541.26M1256.87 1529.8V1541.26M1267.07 1529.8V1541.26M1277.28 1529.8V1541.26M1287.48 1529.8V1541.26M1297.68 1529.8V1541.26M1307.88 1529.8V1541.26M1318.08 1529.8V1541.26M1328.28 1529.8V1541.26M1338.49 1529.8V1541.26M1348.69 1529.8V1541.26M1358.89 1529.8V1541.26M1369.09 1529.8V1541.26M1379.29 1529.8V1541.26M1389.49 1529.8V1541.26M1399.70 1529.8V1541.26M1409.90 1529.8V1541.26M1420.10 1529.8V1541.26M1430.30 1529.8V1541.26M1440.50 1529.8V1541.26M1450.70 1529.8V1541.26M1460.90 1529.8V1541.26M1471.11 1529.8V1541.26M1481.31 1529.8V1541.26M1491.51 1529.8V1541.26M1501.71 1529.8V1541.26M1511.91 1529.8V1541.26M1522.11 1529.8V1541.26M1532.32 1529.8V1541.26M1542.52 1529.8V1541.26M1552.72 1529.8V1541.26M1562.92 1529.8V1541.26M1573.12 1529.8V1541.26M1583.32 1529.8V1541.26M1593.53 1529.8V1541.26M1603.73 1529.8V1541.26M1613.93 1529.8V1541.26M1624.13 1529.8V1541.26M1634.33 1529.8V1541.26M1644.53 1529.8V1541.26M1654.74 1529.8V1541.26M1664.94 1529.8V1541.26M1675.14 1529.8V1541.26M1685.34 1529.8V1541.26M1695.54 1529.8V1541.26M1705.74 1529.8V1541.26M1715.94 1529.8V1541.26M1726.15 1529.8V1541.26M1736.35 1529.8V1541.26M1746.55 1529.8V1541.26M1756.75 1529.8V1541.26M1766.95 1529.8V1541.26M1777.15 1529.8V1541.26M1787.36 1529.8V1541.26M1797.56 1529.8V1541.26M1807.76 1529.8V1541.26M1817.96 1529.8V1541.26M1828.16 1529.8V1541.26M1838.36 1529.8V1541.26M1848.57 1529.8V1541.26M1858.77 1529.8V1541.26M1868.97 1529.8V1541.26M1879.17 1529.8V1541.26M1889.37 1529.8V1541.26M1899.57 1529.8V1541.26M1909.78 1529.8V1541.26M1919.98 1529.8V1541.26M1930.18 1529.8V1541.26M1940.38 1529.8V1541.26M1950.58 1529.8V1541.26M1960.78 1529.8V1541.26" stroke="#333333" stroke-width="4.450" fill="none"/>
<text transform="translate(128.1 1478.40) scale(1 1.04)" x="0" y="0" font-size="35.7" fill="#4D4D4D" text-anchor="end">0.0</text>
<text transform="translate(128.1 1209.92) scale(1 1.04)" x="0" y="0" font-size="35.7" fill="#4D4D4D" text-anchor="end">0.1</text>
<text transform="translate(128.1 941.44) scale(1 1.04)" x="0" y="0" font-size="35.7" fill="#4D4D4D" text-anchor="end">0.2</text>
<text transform="translate(128.1 672.96) scale(1 1.04)" x="0" y="0" font-size="35.7" fill="#4D4D4D" text-anchor="end">0.3</text>
<text transform="translate(128.1 404.48) scale(1 1.04)" x="0" y="0" font-size="35.7" fill="#4D4D4D" text-anchor="end">0.4</text>
<text transform="translate(128.1 136.00) scale(1 1.04)" x="0" y="0" font-size="35.7" fill="#4D4D4D" text-anchor="end">0.5</text>
<g font-size="35.7" fill="#4D4D4D" text-anchor="middle" transform="translate(0 1577.5) scale(1 1.05)">
<text x="155.10" y="0">Afghanistan</text>
<text x="165.30" y="0">Albania</text>
<text x="175.50" y="0">Algeria</text>
<text x="185.70" y="0">Andorra</text>
<text x="195.91" y="0">Angola</text>
<text x="206.11" y="0">Argentina</text>
<text x="216.31" y="0">Austria</text>
<text x="226.51" y="0">Azerbaijan</text>
<text x="236.71" y="0">Bahrain</text>
<text x="246.91" y="0">Bangladesh</text>
<text x="257.12" y="0">Belarus</text>
<text x="267.32" y="0">Belgium</text>
<text x="277.52" y="0">Belize</text>
<text x="287.72" y="0">Benin</text>
<text x="297.92" y="0">Bhutan</text>
<text x="308.12" y="0">Bolivia</text>
<text x="318.33" y="0">Bosnia and Herzegovina</text>
<text x="328.53" y="0">Botswana</text>
<text x="338.73" y="0">Brazil</text>
<text x="348.93" y="0">Brunei</text>
<text x="359.13" y="0">Bulgaria</text>
<text x="369.33" y="0">Cambodia</text>
<text x="379.54" y="0">Cameroon</text>
<text x="389.74" y="0">Canada</text>
<text x="399.94" y="0">Cape Verde</text>
<text x="410.14" y="0">Burkina Faso</text>
<text x="420.34" y="0">Burundi</text>
<text x="430.54" y="0">Central African Republic</text>
<text x="440.74" y="0">Chad</text>
<text x="450.95" y="0">Chile</text>
<text x="461.15" y="0">China</text>
<text x="471.35" y="0">Colombia</text>
<text x="481.55" y="0">Comoros</text>
<text x="491.75" y="0">Cook Islands</text>
<text x="501.95" y="0">Costa Rica</text>
<text x="512.16" y="0">Cote d&#x27;Ivoire</text>
<text x="522.36" y="0">Croatia</text>
<text x="532.56" y="0">Cuba</text>
<text x="542.76" y="0">Cyprus</text>
<text x="552.96" y="0">Czech Republic</text>
<text x="563.16" y="0">Democratic Republic of the Congo</text>
<text x="573.37" y="0">Denmark</text>
<text x="583.57" y="0">Djibouti</text>
<text x="593.77" y="0">Dominica</text>
<text x="603.97" y="0">Dominican Republic</text>
<text x="614.17" y="0">Ecuador</text>
<text x="624.37" y="0">Egypt</text>
<text x="634.58" y="0">East Timor</text>
<text x="644.78" y="0">El Salvador</text>
<text x="654.98" y="0">Equatorial Guinea</text>
<text x="665.18" y="0">Eritrea</text>
<text x="675.38" y="0">Estonia</text>
<text x="685.58" y="0">Eswatini</text>
<text x="695.78" y="0">Ethiopia</text>
<text x="705.99" y="0">Fiji</text>
<text x="716.19" y="0">Finland</text>
<text x="726.39" y="0">France</text>
<text x="736.59" y="0">Gabon</text>
<text x="746.79" y="0">Gambia</text>
<text x="756.99" y="0">Georgia</text>
<text x="767.20" y="0">Germany</text>
<text x="777.40" y="0">Ghana</text>
<text x="787.60" y="0">Greece</text>
<text x="797.80" y="0">Grenada</text>
<text x="808.00" y="0">Guatemala</text>
<text x="818.20" y="0">Guinea</text>
<text x="828.41" y="0">Guinea-Bissau</text>
<text x="838.61" y="0">Guyana</text>
<text x="848.81" y="0">Haiti</text>
<text x="859.01" y="0">Honduras</text>
<text x="869.21" y="0">Hungary</text>
<text x="879.41" y="0">Iceland</text>
<text x="889.62" y="0">India</text>
<text x="899.82" y="0">Indonesia</text>
<text x="910.02" y="0">Iran</text>
<text x="920.22" y="0">Iraq</text>
<text x="930.42" y="0">Israel</text>
<text x="940.62" y="0">Italy</text>
<text x="950.82" y="0">Ivory Coast</text>
<text x="961.03" y="0">Japan</text>
<text x="971.23" y="0">Kenya</text>
<text x="981.43" y="0">Kiribati</text>
<text x="991.63" y="0">Kosovo</text>
<text x="1001.83" y="0">Kuwait</text>
<text x="1012.03" y="0">Kyrgyzstan</text>
<text x="1022.24" y="0">Latvia</text>
<text x="1032.44" y="0">Lebanon</text>
<text x="1042.64" y="0">Lesotho</text>
<text x="1052.84" y="0">Liberia</text>
<text x="1063.04" y="0">Liechtenstein</text>
<text x="1073.24" y="0">Lithuania</text>
<text x="1083.45" y="0">Luxembourg</text>
<text x="1093.65" y="0">Madagascar</text>
<text x="1103.85" y="0">Malawi</text>
<text x="1114.05" y="0">Malaysia</text>
<text x="1124.25" y="0">Mali</text>
<text x="1134.45" y="0">Malta</text>
<text x="1144.66" y="0">Marshall Islands</text>
<text x="1154.86" y="0">Mauritania</text>
<text x="1165.06" y="0">Mauritius</text>
<text x="1175.26" y="0">Mexico</text>
<text x="1185.46" y="0">Micronesia</text>
<text x="1195.66" y="0">Moldova</text>
<text x="1205.86" y="0">Monaco</text>
<text x="1216.07" y="0">Mongolia</text>
<text x="1226.27" y="0">Montenegro</text>
<text x="1236.47" y="0">Morocco</text>
<text x="1246.67" y="0">Mozambique</text>
<text x="1256.87" y="0">Myanmar</text>
<text x="1267.07" y="0">Namibia</text>
<text x="1277.28" y="0">Nauru</text>
<text x="1287.48" y="0">Nepal</text>
<text x="1297.68" y="0">Netherlands</text>
<text x="1307.88" y="0">New Zealand</text>
<text x="1318.08" y="0">Nicaragua</text>
<text x="1328.28" y="0">Niger</text>
<text x="1338.49" y="0">Nigeria</text>
<text x="1348.69" y="0">North Macedonia</text>
<text x="1358.89" y="0">Norway</text>
<text x="1369.09" y="0">Pakistan</text>
<text x="1379.29" y="0">Palau</text>
<text x="1389.49" y="0">Palestine</text>
<text x="1399.70" y="0">Panama</text>
<text x="1409.90" y="0">Papua New Guinea</text>
<text x="1420.10" y="0">Paraguay</text>
<text x="1430.30" y="0">Peru</text>
<text x="1440.50" y="0">Philippines</text>
<text x="1450.70" y="0">Poland</text>
<text x="1460.90" y="0">Portugal</text>
<text x="1471.11" y="0">Qatar</text>
<text x="1481.31" y="0">Rwanda</text>
<text x="1491.51" y="0">Saint Kitts and Nevis</text>
<text x="1501.71" y="0">Saint Lucia</text>
<text x="1511.91" y="0">Saint Vincent and the Grenadines</text>
<text x="1522.11" y="0">Samoa</text>
<text x="1532.32" y="0">San Marino</text>
<text x="1542.52" y="0">Sao Tome and Principe</text>
<text x="1552.72" y="0">Senegal</text>
<text x="1562.92" y="0">Serbia</text>
<text x="1573.12" y="0">Seychelles</text>
<text x="1583.32" y="0">Sierra Leone</text>
<text x="1593.53" y="0">Singapore</text>
<text x="1603.73" y="0">Slovenia</text>
<text x="1613.93" y="0">Solomon Islands</text>
<text x="1624.13" y="0">Somalia</text>
<text x="1634.33" y="0">South Africa</text>
<text x="1644.53" y="0">South Korea</text>
<text x="1654.74" y="0">South Sudan</text>
<text x="1664.94" y="0">Spain</text>
<text x="1675.14" y="0">Sudan</text>
<text x="1685.34" y="0">Suriname</text>
<text x="1695.54" y="0">Sweden</text>
<text x="1705.74" y="0">Switzerland</text>
<text x="1715.94" y="0">Syria</text>
<text x="1726.15" y="0">Taiwan</text>
<text x="1736.35" y="0">Tajikistan</text>
<text x="1746.55" y="0">Timor-Leste</text>
<text x="1756.75" y="0">Tanzania</text>
<text x="1766.95" y="0">Thailand</text>
<text x="1777.15" y="0">Togo</text>
<text x="1787.36" y="0">Tonga</text>
<text x="1797.56" y="0">Trinidad and Tobago</text>
<text x="1807.76" y="0">Tunisia</text>
<text x="1817.96" y="0">Turkey</text>
<text x="1828.16" y="0">Turkmenistan</text>
<text x="1838.36" y="0">Tuvalu</text>
<text x="1848.57" y="0">Uganda</text>
<text x="1858.77" y="0">Ukraine</text>
<text x="1868.97" y="0">United Arab Emirates</text>
<text x="1879.17" y="0">United Kingdom</text>
<text x="1889.37" y="0">United States</text>
<text x="1899.57" y="0">Uruguay</text>
<text x="1909.78" y="0">Uzbekistan</text>
<text x="1919.98" y="0">Vanuatu</text>
<text x="1930.18" y="0">Venezuela</text>
<text x="1940.38" y="0">Vietnam</text>
<text x="1950.58" y="0">Yemen</text>
<text x="1960.78" y="0">Zambia</text>
</g>
<text transform="translate(1058 1631.5) scale(1 1.05)" x="0" y="0" font-size="45.83" fill="#000" text-anchor="middle">Country</text>
<text transform="translate(55.5 814.8) rotate(-90) scale(1 1.05)" x="0" y="0" font-size="45.83" fill="#000" text-anchor="middle">Topic Biodiversity</text>
<text transform="translate(149.2 63) scale(1 1.04)" x="0" y="0" font-size="55" fill="#000">Regression Plot</text>
</svg></body></html>
